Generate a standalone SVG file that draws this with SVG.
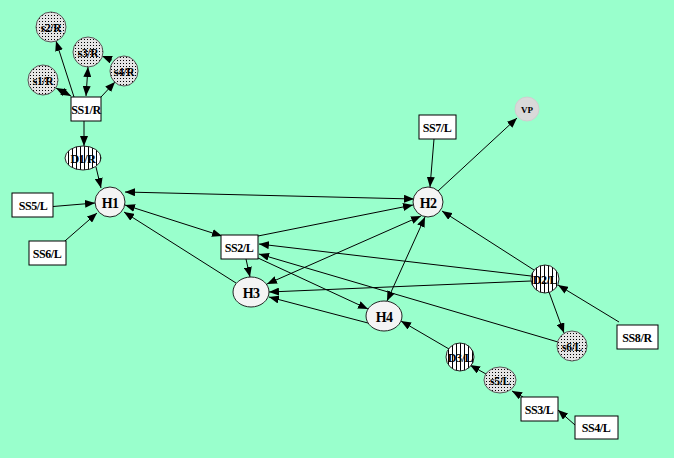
<svg xmlns="http://www.w3.org/2000/svg" width="674" height="458" viewBox="0 0 674 458">
<defs>
<pattern id="dots" width="3" height="3" patternUnits="userSpaceOnUse"><rect width="3" height="3" fill="#e4e4e4"/><rect width="1" height="1" fill="#000"/></pattern>
<pattern id="stripes" width="4" height="4" patternUnits="userSpaceOnUse"><rect width="4" height="4" fill="#fff"/><rect width="1" height="4" fill="#000"/></pattern>
<marker id="ah" viewBox="0 0 10 8" refX="10" refY="4" markerWidth="10" markerHeight="8" markerUnits="userSpaceOnUse" orient="auto-start-reverse"><path d="M0,0 L10,4 L0,8 z" fill="#000"/></marker>
</defs>
<style>
text{font-family:"Liberation Serif","Times New Roman",serif;font-weight:bold;fill:#000;text-anchor:middle;dominant-baseline:central}
.box{fill:#fff;stroke:#000;stroke-width:1}
.hn{fill:#f4f4f4;stroke:#222;stroke-width:1}
.sn{fill:url(#dots);stroke:#555;stroke-width:1}
.dn{fill:url(#stripes);stroke:#222;stroke-width:1}
.lb{font-size:12px;letter-spacing:-0.4px}
.hl{font-size:14px;letter-spacing:-0.8px}
.sl{font-size:11.5px;letter-spacing:-0.3px}
#edges line{stroke:#000;stroke-width:1;marker-end:url(#ah)}
#edges line.bi{marker-start:url(#ah)}
</style>
<rect width="674" height="458" fill="#99FFCC"/>
<g id="edges">
<line x1="74" y1="97" x2="56" y2="41"/>
<line class="bi" x1="86" y1="96" x2="88" y2="67"/>
<line class="bi" x1="71" y1="96" x2="56" y2="88"/>
<line x1="101" y1="97" x2="115" y2="82"/>
<line x1="112" y1="60" x2="102" y2="56"/>
<line x1="84" y1="121" x2="84" y2="146"/>
<line x1="96" y1="167" x2="101" y2="188"/>
<line x1="47" y1="207" x2="95" y2="203"/>
<line x1="58" y1="247" x2="97" y2="213"/>
<line class="bi" x1="125" y1="192" x2="414" y2="199"/>
<line class="bi" x1="125" y1="205" x2="222" y2="236"/>
<line x1="236" y1="283" x2="124" y2="212"/>
<line x1="258" y1="236" x2="413" y2="205"/>
<line x1="246" y1="259" x2="250" y2="277"/>
<line class="bi" x1="421" y1="216" x2="267" y2="284"/>
<line class="bi" x1="425" y1="217" x2="387" y2="301"/>
<line x1="534" y1="270" x2="442" y2="211"/>
<line x1="531" y1="276" x2="259" y2="244"/>
<line x1="531" y1="281" x2="269" y2="292"/>
<line x1="558" y1="342" x2="259" y2="254"/>
<line x1="258" y1="258" x2="368" y2="309"/>
<line x1="549" y1="292" x2="564" y2="333"/>
<line x1="619" y1="322" x2="558" y2="285"/>
<line x1="434" y1="139" x2="430" y2="187"/>
<line x1="438" y1="191" x2="517" y2="118"/>
<line x1="368" y1="323" x2="269" y2="297"/>
<line x1="449" y1="349" x2="401" y2="321"/>
<line x1="486" y1="374" x2="470" y2="365"/>
<line x1="523" y1="397" x2="512" y2="391"/>
<line x1="575" y1="425" x2="558" y2="410"/>
</g>
<g id="s2R"><circle class="sn" cx="51" cy="27" r="15"/><text class="sl" x="51" y="28">s2/R</text></g>
<g id="s3R"><circle class="sn" cx="88" cy="52" r="15"/><text class="sl" x="88" y="53">s3/R</text></g>
<g id="s4R"><ellipse class="sn" cx="124" cy="71" rx="14" ry="15"/><text class="sl" x="124" y="72">s4/R</text></g>
<g id="s1R"><circle class="sn" cx="43" cy="80" r="15"/><text class="sl" x="43" y="81">s1/R</text></g>
<g id="SS1R"><rect class="box" x="71" y="97" width="30" height="24"/><text class="lb" x="86" y="110">SS1/R</text></g>
<g id="D1R"><ellipse class="dn" cx="83" cy="158" rx="18" ry="12"/><text class="lb" x="83" y="159">D1/R</text></g>
<g id="H1"><circle class="hn" cx="110" cy="202" r="15"/><text class="hl" x="110" y="203">H1</text></g>
<g id="SS5L"><rect class="box" x="12" y="193" width="41" height="24"/><text class="lb" x="33" y="206">SS5/L</text></g>
<g id="SS6L"><rect class="box" x="29" y="241" width="37" height="24"/><text class="lb" x="47" y="254">SS6/L</text></g>
<g id="SS2L"><rect class="box" x="221" y="235" width="37" height="24"/><text class="lb" x="239" y="248">SS2/L</text></g>
<g id="H3"><ellipse class="hn" cx="251" cy="292" rx="18" ry="15"/><text class="hl" x="251" y="293">H3</text></g>
<g id="H4"><ellipse class="hn" cx="384" cy="316" rx="18" ry="15"/><text class="hl" x="384" y="317">H4</text></g>
<g id="H2"><circle class="hn" cx="428" cy="202" r="15"/><text class="hl" x="428" y="203">H2</text></g>
<g id="SS7L"><rect class="box" x="419" y="115" width="37" height="24"/><text class="lb" x="437" y="128">SS7/L</text></g>
<g id="VP"><circle cx="527" cy="109" r="12" fill="#d9d9d9" stroke="#cfcfcf"/><text x="527" y="110" style="font-size:9px">VP</text></g>
<g id="D2L"><circle class="dn" cx="545" cy="279" r="14"/><text class="lb" x="545" y="280">D2/L</text></g>
<g id="SS8R"><rect class="box" x="617" y="325" width="41" height="24"/><text class="lb" x="637" y="338">SS8/R</text></g>
<g id="s6L"><circle class="sn" cx="572" cy="346" r="15"/><text class="sl" x="572" y="347">s6/L</text></g>
<g id="D3L"><circle class="dn" cx="460" cy="357" r="14"/><text class="lb" x="460" y="358">D3/L</text></g>
<g id="s5L"><ellipse class="sn" cx="500" cy="380" rx="16" ry="13"/><text class="sl" x="500" y="381">s5/L</text></g>
<g id="SS3L"><rect class="box" x="521" y="397" width="37" height="24"/><text class="lb" x="539" y="410">SS3/L</text></g>
<g id="SS4L"><rect class="box" x="575" y="416" width="43" height="23"/><text class="lb" x="596" y="428">SS4/L</text></g>
</svg>
